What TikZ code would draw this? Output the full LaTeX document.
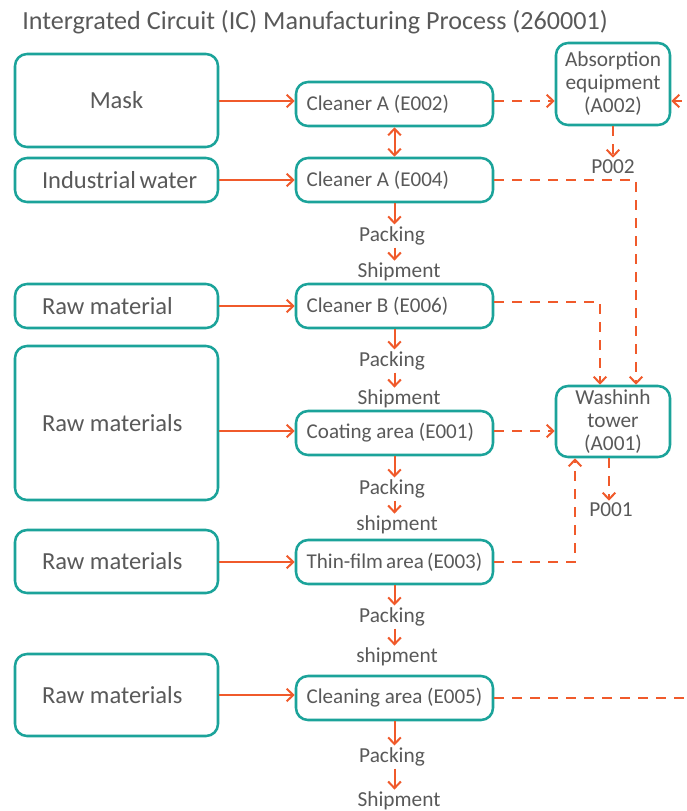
\documentclass[tikz,border=0pt]{standalone}
\usepackage{fontspec}
\setmainfont{Carlito}
\usetikzlibrary{arrows.meta}
\definecolor{boxteal}{HTML}{1BA39A}
\definecolor{flowred}{HTML}{F05A2B}
\definecolor{txtgray}{HTML}{595959}
\begin{document}
\begin{tikzpicture}[x=0.75pt,y=-0.75pt,
  box/.style={draw=boxteal, line width=1.9pt, rounded corners=9pt, fill=white,
    text=txtgray, inner ysep=0pt},
  srcbox/.style={box, minimum width=152.25pt, inner xsep=20.25pt,
    font=\fontsize{18.4}{20}\selectfont,
    execute at begin node={\hbox to 111.75pt\bgroup},
    execute at end node={\hfil\egroup}},
  maskbox/.style={box, minimum width=152.25pt, font=\fontsize{18.4}{20}\selectfont},
  procbox/.style={box, minimum width=147.75pt, minimum height=33pt, inner xsep=8pt,
    font=\fontsize{15.8}{17}\selectfont,
    execute at begin node={\hbox to 131.75pt\bgroup},
    execute at end node={\hfil\egroup}},
  unitbox/.style={box, minimum width=85.5pt, align=center, inner xsep=2pt,
    font=\fontsize{16}{17.25}\selectfont},
  lbl/.style={text=txtgray, inner xsep=0pt, inner ysep=1.5pt, font=\fontsize{16}{17}\selectfont},
  flow/.style={draw=flowred, line width=1.5pt, -{Straight Barb[length=5pt,width=9.5pt]}},
  vent/.style={flow, dash pattern=on 7.5pt off 6pt},
  ventline/.style={draw=flowred, line width=1.5pt, dash pattern=on 7.5pt off 6pt}]
\useasboundingbox (0,0) rectangle (686,811);
\clip (0,0) rectangle (686,811);

% title
\node[anchor=west, text=txtgray, inner sep=0pt, font=\fontsize{19.6}{21}\selectfont]
  (title) at (22,22) {Intergrated Circuit (IC) Manufacturing Process (260001)};

% inputs
\node[maskbox, minimum height=69.75pt] (mask) at (116.5,100.5) {Mask};
\node[srcbox, minimum height=33pt] (water) at (116.5,180) {Industrial water};
\node[srcbox, minimum height=33pt] (raw1) at (116.5,306) {Raw material};
\node[srcbox, minimum height=115.5pt] (raw2) at (116.5,423) {Raw materials};
\node[srcbox, minimum height=47.25pt] (raw3) at (116.5,561.5) {Raw materials};
\node[srcbox, minimum height=61.5pt] (raw4) at (116.5,695) {Raw materials};

% process units
\node[procbox] (e002) at (394.5,104) {Cleaner A (E002)};
\node[procbox] (e004) at (394.5,180) {Cleaner A (E004)};
\node[procbox] (e006) at (394.5,306) {Cleaner B (E006)};
\node[procbox] (e001) at (394.5,433) {Coating area (E001)};
\node[procbox] (e003) at (394.5,562) {Thin-film area (E003)};
\node[procbox] (e005) at (394.5,698) {Cleaning area (E005)};

% treatment units
\node[unitbox, minimum height=61.5pt] (a002) at (613,84) {Absorption\\equipment\\(A002)};
\node[unitbox, minimum height=53.25pt] (a001) at (613,421.5) {Washinh\\tower\\(A001)};

% outlets
\node[lbl] (p002) at (613,167) {P002};
\node[lbl] (p001) at (611,510) {P001};

% packing / shipment labels
\node[lbl] (pk1) at (392,236) {Packing};
\node[lbl] (sh1) at (399,272) {Shipment};
\node[lbl] (pk2) at (392,361) {Packing};
\node[lbl] (sh2) at (399,399) {Shipment};
\node[lbl] (pk3) at (392,489) {Packing};
\node[lbl] (sh3) at (397,525) {shipment};
\node[lbl] (pk4) at (392,617) {Packing};
\node[lbl] (sh4) at (397,657) {shipment};
\node[lbl] (pk5) at (392,757) {Packing};
\node[lbl] (sh5) at (399,801) {Shipment};

% feed lines
\draw[flow] ([yshift=2.25pt]mask.east |- e002.west) -- ([yshift=2.25pt]e002.west);
\draw[flow] (water) -- (e004);
\draw[flow] (raw1) -- (e006);
\draw[flow] ([yshift=1.5pt]raw2.east |- e001.west) -- ([yshift=1.5pt]e001.west);
\draw[flow] (raw3.east |- e003.west) -- (e003.west);
\draw[flow] (raw4.east) -- (raw4.east -| e005.west);

% link between the two A cleaners
\draw[flow, {Straight Barb[length=5pt,width=9.5pt]}-{Straight Barb[length=5pt,width=9.5pt]}]
  (e002.south) -- (e004.north);

% product lines
\foreach \u/\p/\s in {e004/pk1/sh1, e006/pk2/sh2, e001/pk3/sh3, e003/pk4/sh4, e005/pk5/sh5}{
  \draw[flow] (\u.south) -- (\u.south |- \p.north);
  \draw[flow] (\u.south |- \p.south) -- (\u.south |- \s.north);
}

% exhaust lines
\coordinate (rin) at (700,101);
\coordinate (rout) at (700,698);
\draw[vent] ([yshift=2.25pt]e002.east) -- ([yshift=2.25pt]e002.east -| a002.west);
\draw[vent] (rin) -- (rin -| a002.east);
\draw[vent] (a002.south) -- (a002.south |- p002.north);
\draw[vent] (e004.east) -| ([xshift=17.25pt]a001.north);
\draw[vent] ([yshift=3pt]e006.east) -| ([xshift=-9.75pt]a001.north);
\draw[vent] ([yshift=1.5pt]e001.east) -- ([yshift=1.5pt]e001.east -| a001.west);
\draw[vent] (e003.east) -| ([xshift=-28.5pt]a001.south);
\draw[vent] ([xshift=-3pt]a001.south) -- ([xshift=-3pt]a001.south |- p001.north);
\draw[ventline] (e005.east) -- (rout);
\end{tikzpicture}
\end{document}
